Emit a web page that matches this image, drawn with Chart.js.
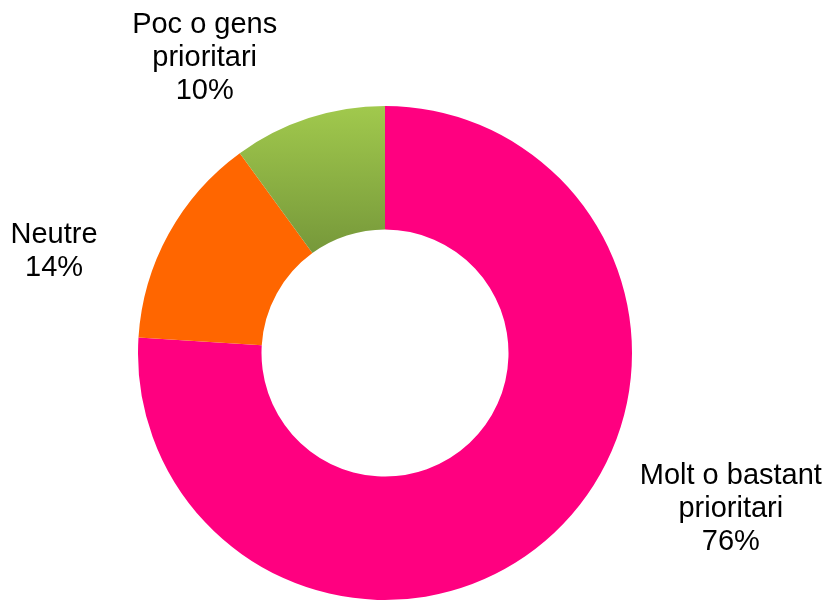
<!DOCTYPE html>
<html>
<head>
<meta charset="utf-8">
<script src="https://cdn.jsdelivr.net/npm/chart.js@4"></script>
<style>
  html, body { margin: 0; padding: 0; background: #fff; }
  #wrap { width: 826px; height: 601px; }
</style>
</head>
<body>
<div id="wrap"><canvas id="chart" width="826" height="601"></canvas></div>
<script>
// data
const categories = ["Molt o bastant prioritari", "Neutre", "Poc o gens prioritari"];
const labelLines = [["Molt o bastant", "prioritari"], ["Neutre"], ["Poc o gens", "prioritari"]];
const percentValues = [76, 14, 10];
const sliceColors = ["#ff0080", "#ff6600", null]; // last one is a gradient

// where each label sits, relative to the doughnut centre, in units of the outer radius
const labelOffsets = [[1.40, 0.53], [-1.34, -0.445], [-0.73, -1.295]];

const ctx = document.getElementById("chart").getContext("2d");

const greenFill = (context) => {
  const area = context.chart.chartArea;
  if (!area) return "#8cb043";
  const cy = (area.top + area.bottom) / 2;
  const R = Math.min(area.right - area.left, area.bottom - area.top) / 2;
  const top = cy - R;
  const bottom = cy - 0.5 * R * Math.cos(Math.PI * 2 * 0.10);
  const g = context.chart.ctx.createLinearGradient(0, top, 0, bottom);
  g.addColorStop(0, "#a1c94d");
  g.addColorStop(1, "#76983a");
  return g;
};

const labelPlugin = {
  id: "sliceLabels",
  afterDraw(chart) {
    const meta = chart.getDatasetMeta(0);
    const c = chart.ctx;
    c.save();
    c.font = "29px 'Liberation Sans', Arial, sans-serif";
    c.fillStyle = "#000";
    c.textAlign = "center";
    c.textBaseline = "alphabetic";
    meta.data.forEach((arc, i) => {
      const R = arc.outerRadius;
      const x = arc.x + labelOffsets[i][0] * R;
      const y = arc.y + labelOffsets[i][1] * R;
      const lines = labelLines[i].concat([percentValues[i] + "%"]);
      lines.forEach((ln, k) => {
        c.fillText(ln, x, y + k * 33);
      });
    });
    c.restore();
  }
};

new Chart(ctx, {
  type: "doughnut",
  data: {
    labels: categories,
    datasets: [{
      data: percentValues,
      backgroundColor: (context) => context.dataIndex === 2 ? greenFill(context) : sliceColors[context.dataIndex],
      borderWidth: 0,
      hoverOffset: 0
    }]
  },
  options: {
    responsive: false,
    animation: false,
    cutout: "50%",
    rotation: 0,
    layout: {
      padding: { left: 138, right: 194, top: 106, bottom: 1 }
    },
    plugins: {
      legend: { display: false },
      tooltip: { enabled: false }
    }
  },
  plugins: [labelPlugin]
});
</script>
</body>
</html>
